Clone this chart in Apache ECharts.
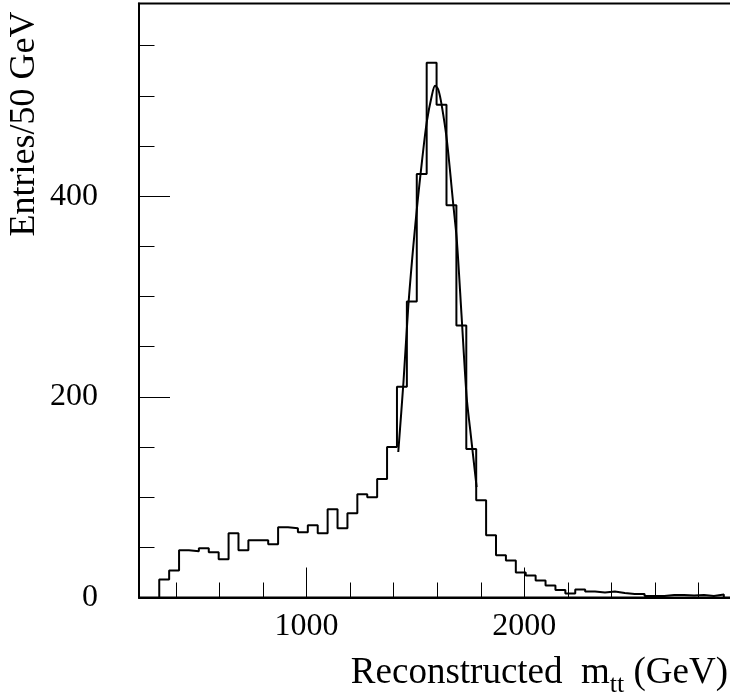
<!DOCTYPE html>
<html>
<head>
<meta charset="utf-8">
<script src="https://cdn.jsdelivr.net/npm/echarts@6/dist/echarts.min.js"></script>
<style>
html,body{margin:0;padding:0;background:#fff;}
#chart{width:730px;height:700px;}
</style>
</head>
<body>
<div id="chart"></div>
<script>
// ---- data ----
const binStart = 323;      // low edge of the first filled bin (GeV, axis units)
const binWidth = 45.5;     // bin width (axis units)
const counts = [18, 27, 47, 46, 49, 45, 38, 64, 47, 57,
                57, 53, 70, 69, 65, 72, 64, 88, 69, 84,
                103, 100, 118, 150, 210, 295, 422, 533, 491, 391,
                271, 148, 97, 62, 42, 37, 25, 22, 17, 12,
                7.5, 4, 8, 6, 5, 6, 4.5, 3.5, 3.5, 1.5,
                1.5, 2.5, 2.5, 2, 2.5, 1.5, 3];
const fitX = [1421, 1445, 1467, 1490, 1510, 1530, 1552, 1575, 1590, 1605,
              1621, 1644, 1674, 1690, 1712, 1735, 1751, 1781];
const fitY = [145, 215, 290, 350, 395, 435, 474, 500, 510, 506,
              490, 456, 391, 356, 280, 200, 168, 110];
const xMajorTicks = [1000, 2000];
const xMinorTicks = [400, 600, 800, 1200, 1400, 1600, 1800, 2200, 2400, 2600, 2800];
const yMajorTicks = [0, 200, 400];
const yMinorTicks = [50, 100, 150, 250, 300, 350, 450, 500, 550];
const xTitle = 'Reconstructed  m';
const xTitleSub = 'tt';
const xTitleEnd = ' (GeV)';
const yTitle = 'Entries/50 GeV';

// ---- build chart ----
const FONT = '"Liberation Serif", "Times New Roman", serif';
const histPts = [[binStart, 0]];
counts.forEach((c, i) => histPts.push([binStart + i * binWidth, c]));
const xEnd = binStart + counts.length * binWidth;
histPts.push([xEnd, counts[counts.length - 1]]);
histPts.push([xEnd, 0]);
const fitPts = fitX.map((x, i) => [x, fitY[i]]);

const plain = v => String(v);
const chart = echarts.init(document.getElementById('chart'), null, {renderer: 'canvas'});
const xBase = {type: 'value', min: 230, max: 3000, position: 'bottom', splitLine: {show: false}};
const yBase = {type: 'value', min: 0, max: 592, position: 'left', splitLine: {show: false}};
chart.setOption({
  animation: false,
  backgroundColor: '#fff',
  grid: {left: 139, top: 3.5, width: 603, height: 594, show: true,
         outerBoundsMode: 'none', containLabel: false,
         borderColor: '#000', borderWidth: 2, backgroundColor: 'transparent'},
  xAxis: [
    Object.assign({}, xBase, {
      axisLine: {show: true, onZero: false, lineStyle: {color: '#000', width: 2}},
      axisTick: {show: true, inside: true, length: 30, customValues: xMajorTicks,
                 lineStyle: {color: '#000', width: 1}},
      axisLabel: {show: true, customValues: xMajorTicks, margin: 13, color: '#000',
                  fontFamily: FONT, fontSize: 32, formatter: plain}
    }),
    Object.assign({}, xBase, {
      axisLine: {show: false, onZero: false},
      axisTick: {show: true, inside: true, length: 15, customValues: xMinorTicks,
                 lineStyle: {color: '#000', width: 1}},
      axisLabel: {show: false}
    })
  ],
  yAxis: [
    Object.assign({}, yBase, {
      axisLine: {show: true, onZero: false, lineStyle: {color: '#000', width: 2}},
      axisTick: {show: true, inside: true, length: 31, customValues: yMajorTicks,
                 lineStyle: {color: '#000', width: 1}},
      axisLabel: {show: true, customValues: yMajorTicks, margin: 41, color: '#000',
                  fontFamily: FONT, fontSize: 32, formatter: plain}
    }),
    Object.assign({}, yBase, {
      axisLine: {show: false, onZero: false},
      axisTick: {show: true, inside: true, length: 15.5, customValues: yMinorTicks,
                 lineStyle: {color: '#000', width: 1}},
      axisLabel: {show: false}
    })
  ],
  series: [
    {type: 'line', name: 'histogram', xAxisIndex: 0, yAxisIndex: 0, data: histPts,
     step: 'end', symbol: 'none', lineStyle: {color: '#000', width: 2}, z: 3},
    {type: 'line', name: 'fit', xAxisIndex: 0, yAxisIndex: 0, data: fitPts,
     smooth: 0.3, symbol: 'none', lineStyle: {color: '#000', width: 2}, z: 4}
  ],
  graphic: [
    {type: 'text', x: 25, y: 124, rotation: Math.PI / 2,
     style: {text: yTitle, fontFamily: FONT, fontSize: 36, fill: '#000',
             align: 'center', verticalAlign: 'middle'}},
    {type: 'text', x: 728, y: 673,
     style: {text: '{m|' + xTitle + '}{s|' + xTitleSub + '}{m|' + xTitleEnd + '}',
             align: 'right', verticalAlign: 'middle', fill: '#000',
             rich: {
               m: {fontFamily: FONT, fontSize: 37, fill: '#000'},
               s: {fontFamily: FONT, fontSize: 26, fill: '#000', padding: [24, 0, 0, 0]}
             }}}
  ]
});
</script>
</body>
</html>
